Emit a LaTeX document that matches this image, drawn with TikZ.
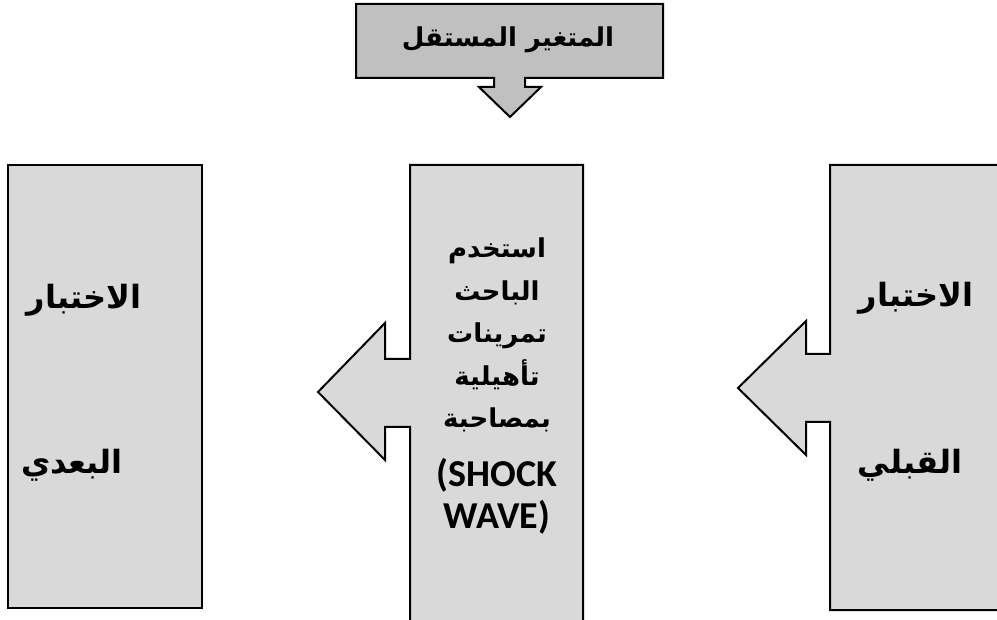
\documentclass[tikz,border=0pt]{standalone}
\usepackage{fontspec}
\setmainfont{Liberation Sans}
\newfontfamily\arabicfont[Script=Arabic]{DejaVu Sans}
\newfontfamily\latinfont{Carlito}
\TeXXeTstate=1
\definecolor{boxgray}{HTML}{D9D9D9}
\definecolor{topgray}{HTML}{C0C0C0}
\begin{document}
\begin{tikzpicture}[x=1pt,y=-1pt,
  callout/.style={draw=black, line width=2pt, fill=boxgray, line join=miter},
  topcallout/.style={callout, fill=topgray},
  toptext/.style={inner sep=0pt, font=\arabicfont\bfseries\fontsize{26}{30}\selectfont},
  artext/.style={inner sep=0pt, font=\arabicfont\bfseries\fontsize{32}{36}\selectfont},
  midtext/.style={inner sep=0pt, align=center, font=\arabicfont\bfseries\fontsize{26}{42.5}\selectfont}
]
\path[use as bounding box, clip] (0,0) rectangle (997,620);

% top callout (independent variable)
\draw[topcallout] (356,4) -- (663,4) -- (663,78) -- (525,78) -- (525,87) -- (541,87)
  -- (510,117) -- (479,87) -- (494,87) -- (494,78) -- (356,78) -- cycle;
\node[toptext] (iv) at (508,40) {\beginR المتغير المستقل\endR};

% left box (post test)
\draw[callout] (8,165) rectangle (202,608);
\node[artext] (post1) at (84,300) {\beginR الاختبار\endR};
\node[artext] (post2) at (72,465) {\beginR البعدي\endR};

% middle callout (treatment)
\draw[callout] (583,165) -- (410,165) -- (410,359) -- (385,359) -- (385,323)
  -- (318,392) -- (385,460) -- (385,427) -- (410,427) -- (410,640) -- (583,640) -- cycle;
\node[midtext] (treat) at (497,386) {\beginR استخدم\endR\\
  \beginR الباحث\endR\\
  \beginR تمرينات\endR\\
  \beginR تأهيلية\endR\\
  \beginR بمصاحبة\endR\\[16pt]
  {\latinfont\bfseries\fontsize{38}{40}\selectfont (SHOCK}\\
  {\latinfont\bfseries\fontsize{38}{40}\selectfont WAVE)}};

% right callout (pre test)
\draw[callout] (1010,165) -- (830,165) -- (830,354) -- (806,354) -- (806,321)
  -- (738,388) -- (806,455) -- (806,422) -- (830,422) -- (830,610) -- (1010,610) -- cycle;
\node[artext] (pre1) at (916,298) {\beginR الاختبار\endR};
\node[artext] (pre2) at (910,465) {\beginR القبلي\endR};
\end{tikzpicture}
\end{document}
